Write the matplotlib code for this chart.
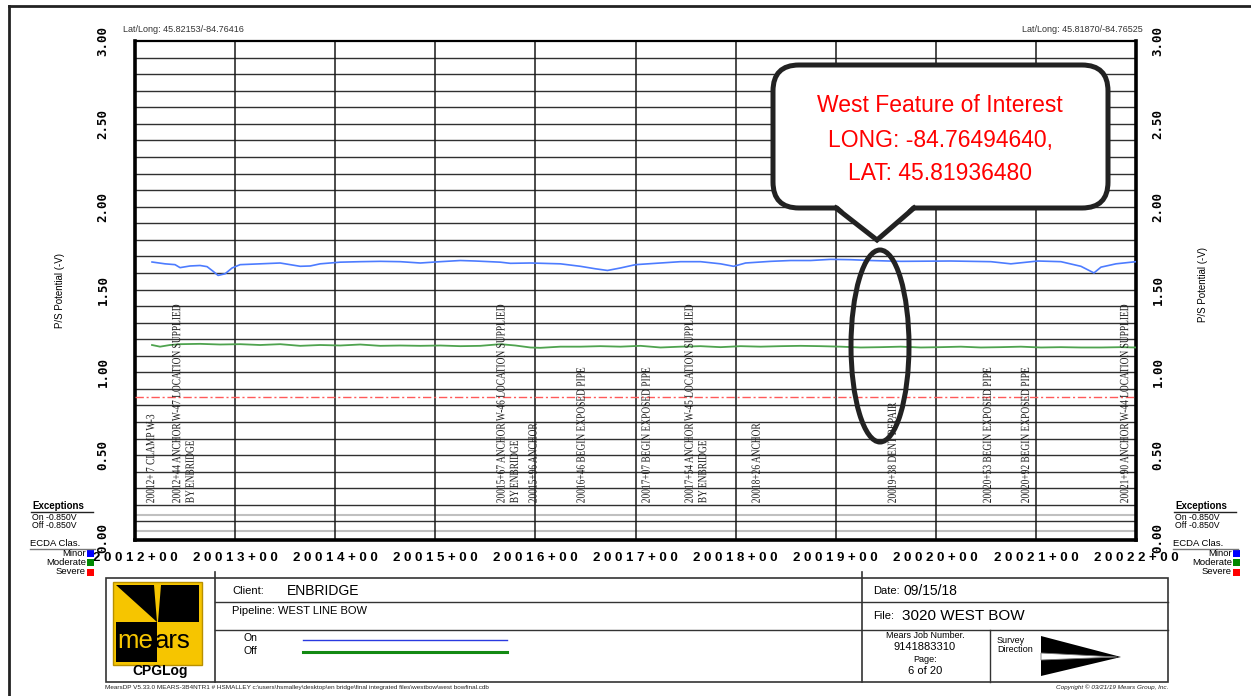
import matplotlib
matplotlib.use("Agg")
import matplotlib.pyplot as plt
import matplotlib.transforms as mtransforms
from matplotlib.patches import FancyBboxPatch, Ellipse, Polygon, Rectangle, PathPatch
from matplotlib.textpath import TextPath
from matplotlib.font_manager import FontProperties
import numpy as np

# ---- survey data (station in 100 ft units, potentials in -V) ----
on_sta = [20012.17, 20012.30, 20012.40, 20012.45, 20012.55, 20012.65, 20012.72, 20012.78,
          20012.83, 20012.90, 20012.97, 20013.05, 20013.25, 20013.45, 20013.65, 20013.75,
          20013.85, 20014.05, 20014.25, 20014.45, 20014.65, 20014.85, 20015.05, 20015.25,
          20015.40, 20015.65, 20015.75, 20015.95, 20016.25, 20016.45, 20016.60, 20016.72,
          20016.85, 20017.00, 20017.25, 20017.45, 20017.65, 20017.85, 20017.98, 20018.10,
          20018.35, 20018.55, 20018.75, 20018.95, 20019.15, 20019.35, 20019.65, 20020.15,
          20020.55, 20020.75, 20021.02, 20021.25, 20021.45, 20021.58, 20021.65, 20021.80,
          20022.00]
on_val = [1.666, 1.655, 1.650, 1.632, 1.642, 1.645, 1.638, 1.610,
          1.585, 1.595, 1.630, 1.650, 1.655, 1.660, 1.640, 1.642,
          1.655, 1.665, 1.668, 1.670, 1.668, 1.660, 1.668, 1.675,
          1.672, 1.665, 1.658, 1.660, 1.655, 1.640, 1.625, 1.615,
          1.630, 1.650, 1.660, 1.668, 1.668, 1.655, 1.640, 1.660,
          1.670, 1.675, 1.675, 1.682, 1.680, 1.675, 1.670, 1.672,
          1.668, 1.655, 1.672, 1.668, 1.640, 1.600, 1.635, 1.655,
          1.668]

off_sta = [20012.17, 20012.25, 20012.35, 20012.45, 20012.65, 20012.85, 20013.05, 20013.25,
           20013.45, 20013.65, 20013.85, 20014.05, 20014.25, 20014.45, 20014.65, 20014.85,
           20015.05, 20015.25, 20015.45, 20015.65, 20015.80, 20015.95, 20016.05, 20016.25,
           20016.45, 20016.65, 20016.85, 20017.05, 20017.25, 20017.45, 20017.65, 20017.85,
           20018.05, 20018.25, 20018.45, 20018.65, 20018.85, 20019.05, 20019.25, 20019.45,
           20019.65, 20019.85, 20020.05, 20020.25, 20020.45, 20020.65, 20020.85, 20021.05,
           20021.25, 20021.45, 20021.65, 20021.85, 20022.00]
off_val = [1.165, 1.155, 1.165, 1.170, 1.172, 1.168, 1.170, 1.165,
           1.170, 1.160, 1.165, 1.162, 1.168, 1.160, 1.162, 1.160,
           1.162, 1.158, 1.160, 1.170, 1.162, 1.150, 1.148, 1.155,
           1.155, 1.158, 1.155, 1.160, 1.150, 1.155, 1.158, 1.152,
           1.158, 1.155, 1.158, 1.160, 1.158, 1.155, 1.150, 1.152,
           1.155, 1.150, 1.152, 1.155, 1.150, 1.152, 1.155, 1.150,
           1.152, 1.150, 1.150, 1.152, 1.150]

criterion = 0.85

x_ticks = list(range(20012, 20023))
x_labels = [" ".join(f"{s}+00") for s in x_ticks]
y_ticks = [0.0, 0.5, 1.0, 1.5, 2.0, 2.5, 3.0]
y_labels = ["0.00", "0.50", "1.00", "1.50", "2.00", "2.50", "3.00"]

ann_sta = [20012.15, 20012.41, 20015.65, 20015.97, 20016.45, 20017.10, 20017.53,
           20018.20, 20019.56, 20020.51, 20020.89, 20021.88]
ann_text = ["20012+ 7 CLAMP W-3",
            "20012+44 ANCHOR W-47 LOCATION SUPPLIED\nBY ENBRIDGE",
            "20015+67 ANCHOR W-46 LOCATION SUPPLIED\nBY ENBRIDGE",
            "20015+96 ANCHOR",
            "20016+46 BEGIN EXPOSED PIPE",
            "20017+07 BEGIN EXPOSED PIPE",
            "20017+54 ANCHOR W-45 LOCATION SUPPLIED\nBY ENBRIDGE",
            "20018+26 ANCHOR",
            "20019+38 DENT REPAIR",
            "20020+53 BEGIN EXPOSED PIPE",
            "20020+92 BEGIN EXPOSED PIPE",
            "20021+90 ANCHOR W-44 LOCATION SUPPLIED"]

plt.rcParams['font.family'] = ['Liberation Sans', 'DejaVu Sans']

W, H = 1251, 696
PX = 100 / 72.0
fig = plt.figure(figsize=(W / 100, H / 100), dpi=100)
L, R, T, B = 135, 1136, 41, 540
ax = fig.add_axes([L / W, 1 - B / H, (R - L) / W, (B - T) / H])
ax.set_xlim(x_ticks[0], x_ticks[-1])
ax.set_ylim(-0.012, 3.0)

# grid
for y in np.arange(0.1, 2.95, 0.1):
    ax.axhline(y, color='#303030', lw=1.0, zorder=1)
for y in [0.04, 0.14]:
    ax.axhline(y, color='#c0c0c0', lw=1.5, zorder=1)
for s in x_ticks[1:-1]:
    ax.axvline(s, color='#1a1a1a', lw=1.1, zorder=1)

ax.plot(on_sta, on_val, color='#4d7cff', lw=1.2, zorder=3)
ax.plot(off_sta, off_val, color='#4fa34f', lw=1.3, zorder=3)
ax.axhline(criterion, color='#ff5a5a', lw=1.0, dashes=(6, 2, 1.5, 2), zorder=3)

for sp in ['left', 'right', 'bottom']:
    ax.spines[sp].set_linewidth(2.6)
ax.spines['top'].set_linewidth(1.6)
ax.set_xticks([])
ax.set_yticks([])

# annotations along the pipe: condensed serif text drawn as paths
fp = FontProperties(family='Liberation Serif', size=9.0)
ref_w = TextPath((0, 0), "20012+44 ANCHOR W-47 LOCATION SUPPLIED", prop=fp).get_extents().width
sx = 198.0 / (ref_w * PX)
cap = 0.662 * 9.0 * PX
line_gap = 13.5
for s, t in zip(ann_sta, ann_text):
    for i, line in enumerate(t.split("\n")):
        tp = TextPath((0, 0), line, prop=fp)
        tr = (mtransforms.Affine2D().scale(sx * PX, PX).rotate_deg(90)
              .translate(cap / 2 + i * line_gap, 0)
              + mtransforms.ScaledTranslation(s, 0.21, ax.transData))
        ax.add_patch(PathPatch(tp, fc='#1e1e1e', ec='none', lw=0, transform=tr, zorder=4))

# tick labels
ty = mtransforms.blended_transform_factory(fig.transFigure, ax.transData)
for v, lab in zip(y_ticks, y_labels):
    for xp in (103, 1158):
        ax.text(xp / W, v, lab, transform=ty, rotation=90, ha='center', va='center',
                family='DejaVu Sans Mono', fontweight='bold', fontsize=9, clip_on=False)
tx = mtransforms.blended_transform_factory(ax.transData, fig.transFigure)
for s, lab in zip(x_ticks, x_labels):
    ax.text(s, 1 - 558 / H, lab, transform=tx, ha='center', va='center',
            fontweight='bold', fontsize=9.5, clip_on=False)

# ---- overlay in pixel coordinates ----
ov = fig.add_axes([0, 0, 1, 1], zorder=5)
ov.set_xlim(0, W)
ov.set_ylim(H, 0)
ov.axis('off')

# page border
ov.plot([9, W], [6, 6], color='#222222', lw=2)
ov.plot([9, 9], [6, H], color='#222222', lw=2)

ov.text(123, 29, "Lat/Long: 45.82153/-84.76416", fontsize=6.5, color='#333333', va='center')
ov.text(1143, 29, "Lat/Long: 45.81870/-84.76525", fontsize=6.5, color='#333333', va='center', ha='right')
ov.text(60, 290, "P/S Potential (-V)", rotation=90, fontsize=7, ha='center', va='center')
ov.text(1203, 285, "P/S Potential (-V)", rotation=90, fontsize=7, ha='center', va='center')

# callout box
box = FancyBboxPatch((773, 65), 335, 143, boxstyle="round,pad=0,rounding_size=26",
                     fc='white', ec='#222222', lw=3.6, zorder=5)
ov.add_patch(box)
ov.add_patch(Polygon([(836, 204), (877, 240), (914, 204)], closed=True, fc='white', ec='none', zorder=6))
ov.plot([836, 877, 914], [208, 240, 208], color='#222222', lw=3.6, zorder=7,
        solid_joinstyle='miter')
for yy, txt in zip([105, 140, 173], ["West Feature of Interest", "LONG: -84.76494640,", "LAT: 45.81936480"]):
    ov.text(940, yy, txt, color='#ff0000', fontsize=16.5, ha='center', va='center', zorder=8)

ov.add_patch(Ellipse((880, 346), 58, 192, fill=False, ec='#222222', lw=3.6, zorder=7))

# exceptions / ECDA legends
for x0, xr in ((32, 86), (1175, 1232)):
    ov.text(x0, 506, "Exceptions", fontsize=7, fontweight='bold', va='center')
    ov.plot([x0 - 1, x0 + 61], [512, 512], color='#222222', lw=1)
    ov.text(x0, 517.5, "On -0.850V", fontsize=6.3, va='center')
    ov.text(x0, 525.5, "Off -0.850V", fontsize=6.3, va='center')
    ov.text(x0 - 2, 544, "ECDA Clas.", fontsize=6.8, va='center')
    ov.plot([x0 - 2, x0 + 63], [549, 549], color='#777777', lw=1)
    for yy, name, col in ((553, "Minor", '#0000ff'), (562.5, "Moderate", '#008800'), (572, "Severe", '#ff0000')):
        ov.text(xr, yy, name, fontsize=6.8, ha='right', va='center')
        ov.add_patch(Rectangle((xr + 1, yy - 3.5), 7, 7, fc=col, ec='none'))

# title block
lc = '#333333'
ov.add_patch(Rectangle((106, 578), 1062, 104, fill=False, ec=lc, lw=1.2))
ov.plot([215, 215], [572, 682], color=lc, lw=1.2)
ov.plot([862, 862], [572, 682], color=lc, lw=1.2)
ov.plot([215, 1168], [602, 602], color=lc, lw=1.0)
ov.plot([215, 1168], [630, 630], color=lc, lw=1.0)
ov.plot([990, 990], [630, 682], color=lc, lw=1.0)

# logo
ov.add_patch(Rectangle((113, 582), 89, 83, fc='#f6c500', ec='#b89000', lw=1))
ov.add_patch(Polygon([(116, 585), (154, 585), (157, 622)], fc='black', ec='none'))
ov.add_patch(Polygon([(161, 585), (199, 585), (199, 622), (158, 622)], fc='black', ec='none'))
ov.add_patch(Rectangle((116, 622), 41, 40, fc='black', ec='none'))
ov.text(117, 641, "me", fontsize=18.5, color='#f6c500', va='center')
ov.text(155, 641, "ars", fontsize=18.5, color='black', va='center')
ov.text(160, 671, "CPGLog", fontsize=10, fontweight='bold', ha='center', va='center')

ov.text(232, 591, "Client:", fontsize=8, va='center')
ov.text(287, 591, "ENBRIDGE", fontsize=10, va='center')
ov.text(232, 611, "Pipeline: WEST LINE BOW", fontsize=8, va='center')
ov.text(243, 638, "On", fontsize=7.5, va='center')
ov.text(243, 651, "Off", fontsize=7.5, va='center')
ov.plot([303, 507], [640, 640], color='#2a3ae0', lw=1.0)
ov.plot([303, 507], [652, 652], color='#138a13', lw=2.2)

ov.text(873, 591, "Date:", fontsize=8, va='center')
ov.text(904, 591, "09/15/18", fontsize=10, va='center')
ov.text(873, 616, "File:", fontsize=8, va='center')
ov.text(902, 616, "3020 WEST BOW", fontsize=11, va='center')
ov.text(925, 636, "Mears Job Number.", fontsize=6.5, ha='center', va='center')
ov.text(925, 647, "9141883310", fontsize=8, ha='center', va='center')
ov.text(925, 659, "Page:", fontsize=6.5, ha='center', va='center')
ov.text(925, 671, "6 of 20", fontsize=8, ha='center', va='center')
ov.text(997, 645, "Survey\nDirection", fontsize=6.5, va='center', linespacing=1.1)
ov.add_patch(Polygon([(1041, 636), (1041, 676), (1121, 657)], fc='black', ec='none'))
ov.add_patch(Polygon([(1041, 653), (1041, 660), (1117, 657)], fc='white', ec='#777777', lw=0.6))

ov.text(105, 687, "MearsDP V5.33.0 MEARS-3B4NTR1 # HSMALLEY c:\\users\\hsmalley\\desktop\\en bridge\\final integrated files\\westbow\\west bowfinal.cdb",
        fontsize=4.6, va='center', color='#222222')
ov.text(1168, 687, "Copyright \u00a9 03/21/19 Mears Group, Inc.", fontsize=4.6, style='italic',
        ha='right', va='center', color='#222222')

fig.savefig("out.png", dpi=100)
